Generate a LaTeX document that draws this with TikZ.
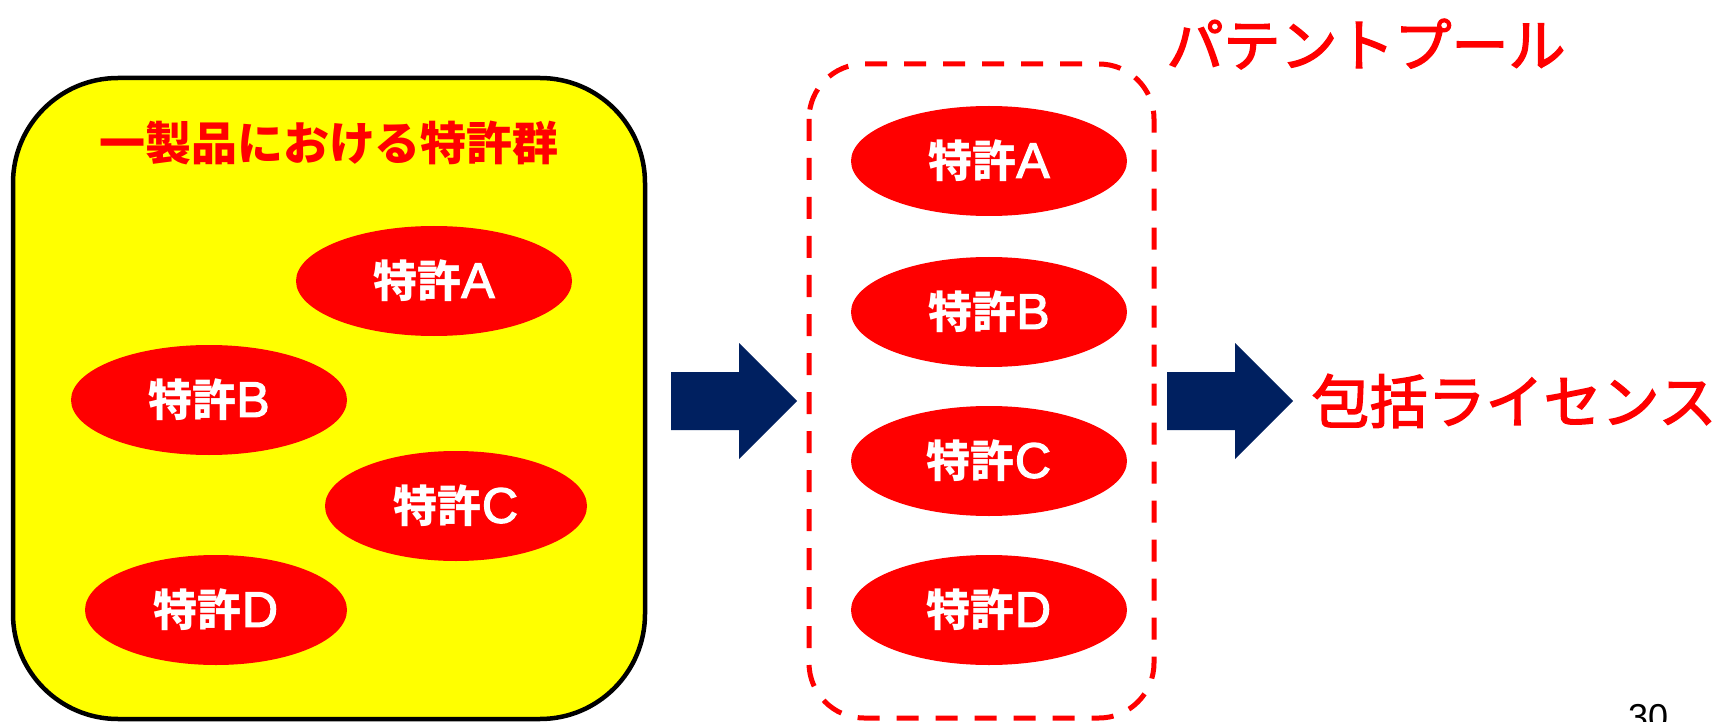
\documentclass[tikz,border=0pt]{standalone}
\usepackage{fontspec}
\setmainfont{Noto Sans CJK JP}
\newfontfamily\numfont{Liberation Sans}
\newfontfamily\letterfont[FakeBold=2.5]{Liberation Sans}
\newfontfamily\kanafont[FakeBold=2.5]{Noto Sans CJK JP}
\usetikzlibrary{shapes.geometric}
\definecolor{navy}{RGB}{0,32,96}
\definecolor{pred}{RGB}{255,0,0}
\definecolor{pyellow}{RGB}{255,255,0}
\newcommand\patlabel[1]{{\bfseries 特許}{\letterfont\fontsize{50}{50}\selectfont #1}}
\tikzset{
  patent/.style={ellipse, fill=pred, inner sep=0pt, minimum height=110pt,
    text=white, font=\fontsize{44}{44}\selectfont},
  bigarrow/.style={fill=navy, draw=none},
  redlabel/.style={text=pred, inner sep=0pt}
}
\begin{document}
\begin{tikzpicture}[x=1pt,y=-1pt]
\useasboundingbox (0,0) rectangle (1730,722);
% yellow group box
\draw[line width=4.5pt, fill=pyellow, rounded corners=105pt] (13,78) rectangle (645,719);
\node[redlabel, font=\fontsize{46}{46}\selectfont\bfseries] (title) at (329,143) {一製品における特許群};
\node[patent, minimum width=276pt] (lA) at (434,281) {\patlabel{A}};
\node[patent, minimum width=276pt] (lB) at (209,400) {\patlabel{B}};
\node[patent, minimum width=262pt] (lC) at (456,506) {\patlabel{C}};
\node[patent, minimum width=262pt] (lD) at (216,610) {\patlabel{D}};
% arrow 1
\fill[bigarrow] (671,372) -- (739,372) -- (739,343) -- (797,401) -- (739,459) -- (739,430) -- (671,430) -- cycle;
% dashed pool box
\draw[pred, line width=5pt, dash pattern=on 22pt off 17pt, rounded corners=55pt] (809,64) rectangle (1154,718);
\node[patent, minimum width=276pt] (rA) at (989,161) {\patlabel{A}};
\node[patent, minimum width=276pt] (rB) at (989,312) {\patlabel{B}};
\node[patent, minimum width=276pt] (rC) at (989,461) {\patlabel{C}};
\node[patent, minimum width=276pt] (rD) at (989,610) {\patlabel{D}};
\node[redlabel, font=\kanafont\fontsize{57}{57}\selectfont] (pool) at (1366,44) {パテントプール};
% arrow 2
\fill[bigarrow] (1167,372) -- (1235,372) -- (1235,343) -- (1293,401) -- (1235,459) -- (1235,430) -- (1167,430) -- cycle;
\node[redlabel, font=\kanafont\fontsize{58}{58}\selectfont] (lic) at (1514,401) {包括ライセンス};
\node[anchor=base west, inner sep=0pt, font=\numfont\fontsize{36}{36}\selectfont] (page) at (1628,729) {30};
\end{tikzpicture}
\end{document}
